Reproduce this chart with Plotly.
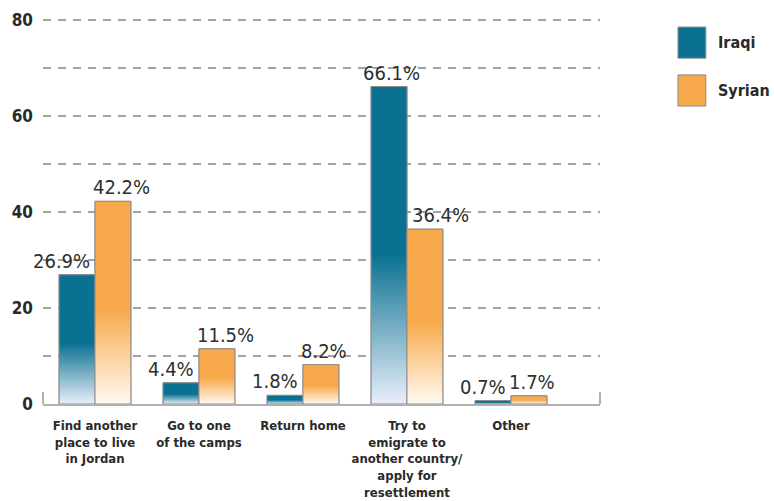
import plotly.graph_objects as go

categories = ["Find another<br>place to live<br>in Jordan", "Go to one<br>of the camps", "Return home",
              "Try to<br>emigrate to<br>another country/<br>apply for<br>resettlement", "Other"]
iraqi = [26.9, 4.4, 1.8, 66.1, 0.7]
syrian = [42.2, 11.5, 8.2, 36.4, 1.7]
series_names = ["Iraqi", "Syrian"]
y_tickvals = [0, 10, 20, 30, 40, 50, 60, 70, 80]
y_ticktext = ["0", "", "20", "", "40", "", "60", "", "80"]

TEAL = "#0a7192"
TEAL_LOW = "#e9eff9"
ORANGE = "#f7a94b"
ORANGE_LOW = "#fffaf2"
TXT = "#2a2a2a"
COND = "DejaVu Sans Condensed, Liberation Sans Narrow, Arial Narrow, sans-serif"

BARGAP = 0.31
w = (1 - BARGAP) / 2
xs = list(range(len(categories)))

fig = go.Figure()
series = [(series_names[0], iraqi, TEAL, TEAL_LOW, -1), (series_names[1], syrian, ORANGE, ORANGE_LOW, 0)]
for name, vals, top, low, side in series:
    fig.add_trace(go.Bar(x=xs, y=vals, name=name, marker=dict(color=top, line=dict(color="#8a8a8a", width=1)),
                         showlegend=False))
for name, vals, top, low, side in series:
    for i, v in enumerate(vals):
        x0 = i + side * w
        x1 = x0 + w
        fig.add_trace(go.Scatter(
            x=[x0, x0, x1, x1, x0], y=[0, v, v, 0, 0], mode="lines", fill="toself",
            fillgradient=dict(type="vertical", colorscale=[[0, low], [0.47, top], [1, top]]),
            line=dict(color="#8c8c8c", width=1), hoverinfo="skip", showlegend=False))

annotations = []
for i, (a, b) in enumerate(zip(iraqi, syrian)):
    if a > b:
        annotations.append(dict(x=i - w / 2, y=a, text=f"{a}%", xanchor="center", yanchor="bottom",
                                xshift=2, showarrow=False))
        annotations.append(dict(x=i, y=b, text=f"{b}%", xanchor="left", yanchor="bottom",
                                xshift=3, showarrow=False))
    else:
        annotations.append(dict(x=i, y=a, text=f"{a}%", xanchor="right", yanchor="bottom",
                                xshift=-3, showarrow=False))
        annotations.append(dict(x=i, y=b, text=f"{b}%", xanchor="left", yanchor="bottom",
                                xshift=-4, showarrow=False))
for an in annotations:
    an.update(xref="x", yref="y", font=dict(family=COND, size=20, color="#2e2e2e"))

# manual legend
leg_items = [(series_names[0], TEAL, 0.969), (series_names[1], ORANGE, 0.846)]
shapes = []
for name, col, ytop in leg_items:
    shapes.append(dict(type="rect", xref="paper", yref="paper", x0=1.140, x1=1.190, y0=ytop - 0.080, y1=ytop,
                       fillcolor=col, line=dict(color="#8a8a8a", width=1)))
    annotations.append(dict(xref="paper", yref="paper", x=1.208, y=ytop - 0.040, text=f"<b>{name}</b>",
                            xanchor="left", yanchor="middle", showarrow=False,
                            font=dict(family=COND, size=16, color=TXT)))

# axis end stubs
for xp in [0, 1]:
    shapes.append(dict(type="line", xref="paper", yref="y", x0=xp, x1=xp, y0=0, y1=2.5,
                       line=dict(color="#b0b0b0", width=2)))

fig.update_layout(
    width=774, height=501,
    margin=dict(l=43, r=174, t=15, b=97, autoexpand=False),
    paper_bgcolor="white", plot_bgcolor="white",
    barmode="group", bargap=BARGAP, bargroupgap=0,
    showlegend=False,
    annotations=annotations, shapes=shapes,
    xaxis=dict(range=[-0.5, 4.856], tickmode="array", tickvals=xs, ticktext=[f"<b>{c}</b>" for c in categories],
               tickfont=dict(family=COND, size=13, color=TXT), tickangle=0, automargin=False,
               ticklabelstandoff=8,
               showgrid=False, zeroline=False,
               showline=True, linecolor="#b0b0b0", linewidth=2, ticks="", fixedrange=True),
    yaxis=dict(range=[0, 81], tickmode="array", tickvals=y_tickvals, ticktext=[f"<b>{t}</b>" for t in y_ticktext],
               tickfont=dict(family=COND, size=17, color=TXT), automargin=False,
               showgrid=True, gridcolor="#a3a3a3",
               gridwidth=2, griddash="8px,7px", zeroline=False, showline=False, ticks="",
               ticklabelstandoff=9, fixedrange=True),
)

fig.write_html("out.html", config={"displayModeBar": False},
               post_script="document.body.style.margin='0';")
